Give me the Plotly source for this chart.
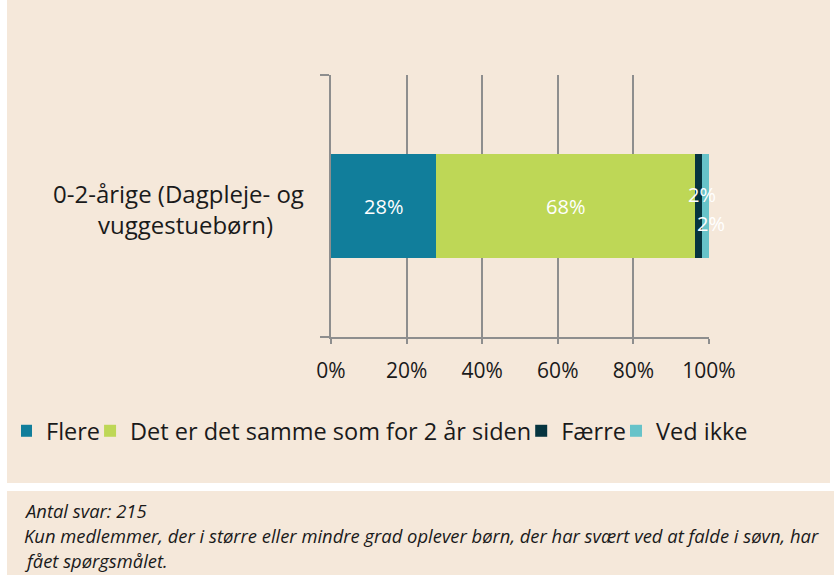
import plotly.graph_objects as go

# ---- data ----
categories = ["0-2-årige (Dagpleje- og vuggestuebørn)"]
series_names = ["Flere", "Det er det samme som for 2 år siden", "Færre", "Ved ikke"]
series_values = [27.9, 68.4, 1.9, 1.9]          # percent
series_labels = ["28%", "68%", "2%", "2%"]
series_colors = ["#117E9B", "#BED756", "#06343F", "#67C3C9"]
tick_vals = [0, 20, 40, 60, 80, 100]
tick_text = ["0%", "20%", "40%", "60%", "80%", "100%"]
footnote_lines = [
    "Antal svar: 215",
    "Kun medlemmer, der i større eller mindre grad oplever børn, der har svært ved at falde i søvn, har",
    "fået spørgsmålet.",
]

W, H = 834, 575
PL, PR, PT, PB = 331, 709, 75, 337   # plot area edges in px
BG = "#F5E8DA"
GRID = "#8E8E8E"
FONT = "Open Sans"
TXT = "#1A1A1A"

def px_x(px):
    return px / W

def px_y(py):
    return 1 - py / H

fig = go.Figure()
for i, (name, val, lab, col) in enumerate(zip(series_names, series_values, series_labels, series_colors)):
    big = val >= 5
    fig.add_trace(go.Bar(
        y=categories, x=[val], name=name, orientation="h",
        marker=dict(color=col, line=dict(width=0)),
        text=[lab] if big else None,
        textposition="inside" if big else "none",
        insidetextanchor="middle",
        textfont=dict(color="white", size=20, family=FONT),
        hoverinfo="skip",
    ))

# small-segment labels as annotations (positions derived from data)
cum = 0
shifts = {2: (3, 12), 3: (5, -17)}
for i, val in enumerate(series_values):
    if i in shifts:
        xs, ys = shifts[i]
        fig.add_annotation(x=cum + val / 2, y=categories[0], xref="x", yref="y",
                           text=series_labels[i], showarrow=False, xshift=xs, yshift=ys,
                           font=dict(color="white", size=20, family=FONT))
    cum += val

# category label (wrapped, centered)
cat_lines = ["0-2-årige (Dagpleje- og", "vuggestuebørn)"]
fig.add_annotation(x=px_x(306), y=px_y(193), xref="paper", yref="paper", xanchor="right",
                   yanchor="middle", text=cat_lines[0], showarrow=False,
                   font=dict(size=24, color=TXT, family=FONT))
fig.add_annotation(x=px_x(185), y=px_y(224), xref="paper", yref="paper", xanchor="center",
                   yanchor="middle", text=cat_lines[1], showarrow=False,
                   font=dict(size=24, color=TXT, family=FONT))

# footnote lines
for k, (line, py) in enumerate(zip(footnote_lines, [510, 535, 560])):
    fig.add_annotation(x=px_x(22), y=px_y(py), xref="paper", yref="paper", xanchor="left",
                       yanchor="middle", text="<i>" + line + "</i>", showarrow=False,
                       font=dict(size=18.4, color=TXT, family=FONT))

# background panels (white frame/gap)
shapes = [
    dict(type="rect", xref="paper", yref="paper", x0=px_x(0), x1=px_x(7), y0=px_y(0), y1=px_y(H),
         fillcolor="white", line=dict(width=0), layer="below"),
    dict(type="rect", xref="paper", yref="paper", x0=px_x(0), x1=px_x(W), y0=px_y(483), y1=px_y(491),
         fillcolor="white", line=dict(width=0), layer="below"),
    dict(type="rect", xref="paper", yref="paper", x0=px_x(830), x1=px_x(W), y0=px_y(0), y1=px_y(483),
         fillcolor="white", line=dict(width=0), layer="below"),
]

fig.update_layout(
    width=W, height=H,
    margin=dict(l=0, r=0, t=0, b=0, pad=0),
    paper_bgcolor=BG, plot_bgcolor="rgba(0,0,0,0)",
    barmode="stack", bargap=0.6,
    font=dict(family=FONT, color=TXT),
    shapes=shapes,
    showlegend=True,
    legend=dict(orientation="h", x=px_x(21), y=px_y(409), xanchor="left", yanchor="top",
                font=dict(size=23.5, family=FONT, color=TXT),
                bgcolor="rgba(0,0,0,0)", traceorder="normal",
                itemwidth=30, indentation=-15, tracegroupgap=0),
    xaxis=dict(domain=[px_x(PL), px_x(PR)], range=[0, 100], tickvals=tick_vals, ticktext=tick_text,
               showgrid=True, gridcolor=GRID, gridwidth=2,
               showline=True, linecolor=GRID, linewidth=2,
               ticks="outside", ticklen=5, tickwidth=2, tickcolor=GRID,
               tickfont=dict(size=21, family=FONT, color=TXT),
               ticklabelstandoff=9, zeroline=False, fixedrange=True, automargin=False),
    yaxis=dict(domain=[px_y(PB), px_y(PT)], showticklabels=False, showline=True, linecolor=GRID,
               linewidth=2, ticks="outside", ticklen=9, tickwidth=2, tickcolor=GRID,
               tickson="boundaries", showgrid=False, fixedrange=True, automargin=False),
)

fig.write_html("out.html", config={"displayModeBar": False},
               post_script="document.body.style.margin='0';document.body.style.overflow='hidden';")
